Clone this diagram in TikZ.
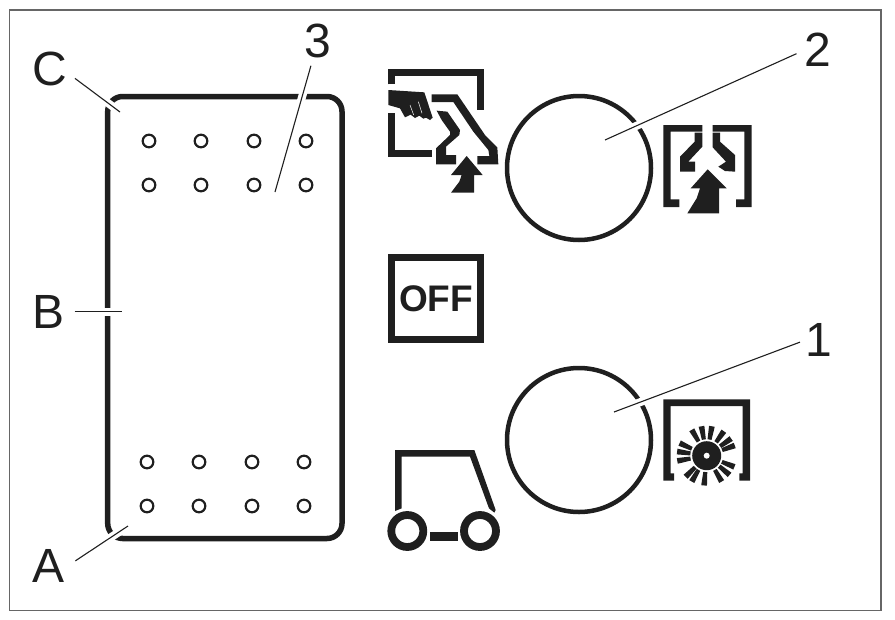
\documentclass[tikz,border=0pt]{standalone}
\usepackage{fontspec}
\setmainfont{Liberation Sans}
\begin{document}
\begin{tikzpicture}[x=1pt,y=-1pt, ink/.style={fill=black!88,draw=none}, frame/.style={draw=black!88,line width=7pt,miter limit=10}, panel/.style={draw=black!88,line width=5.5pt,rounded corners=15pt}, hole/.style={draw=black!88,line width=2.2pt}, dial/.style={draw=black!88,line width=4.5pt}, wheel/.style={draw=black!88,line width=7.8pt}, callout/.style={inner sep=0pt,outer sep=0pt,font=\fontsize{48}{48}\selectfont,text=black!88}, leader/.style={draw=black!88,line width=1.1pt,preaction={draw=white,line width=8pt}}]
\useasboundingbox (0,0) rectangle (895,619);
\draw[black!60,line width=1.5pt] (9.5,10)--(881,10)--(881,610.5)--(9.5,610.5)--cycle;
% switch panel
\draw[panel] (107.7,96.5) rectangle (342,538.5);
\foreach \x in {149,201,254,306} \foreach \y in {141,185} \draw[hole] (\x,\y) circle (6.3pt);
\foreach \x in {147,199,252,304} \foreach \y in {462,506} \draw[hole] (\x,\y) circle (6.3pt);
% dials
\draw[dial] (579,168) circle (72pt);
\draw[dial] (579,440) circle (72pt);
% hand and nozzle
\begin{scope}[shift={(370,50)},scale=1/3]
\draw[frame] (65,103)--(65,68)--(331,68)--(331,180);
\draw[frame] (65,190)--(65,311)--(185,311);
\fill[ink] (55,120)--(163,127)--(188,203)--(180,210)--(168,203)--(160,206)--(148,197)--(135,204)--(122,194)--(105,202)--(90,175)--(55,165)--cycle;
\draw[white,line width=0.5pt] (120,165)--(131,195) (145,155)--(156,190);
\fill[ink] (185,133)--(262,133)--(345,255)--(382,292)--(385,343)--(322,343)--(322,318)--(358,318)--(355,300)--(310,245)--(250,156)--(185,156)--cycle;
\fill[ink] (200,182)--(232,185)--(270,240)--(268,255)--(228,290)--(228,315)--(258,315)--(258,343)--(198,343)--(198,295)--(240,255)--(240,245)--(215,210)--cycle;
\fill[ink] (290,318)--(338,375)--(312,375)--(312,428)--(243,428)--(268,395)--(275,375)--(243,375)--cycle;
\end{scope}
% open nozzle
\begin{scope}[shift={(650,110)},scale=1/3]
\fill[ink] (40,45)--(157,45)--(157,65)--(62,65)--(62,268)--(88,268)--(88,291)--(40,291)--cycle;
\fill[ink] (188,45)--(305,45)--(305,291)--(258,291)--(258,268)--(283,268)--(283,65)--(188,65)--cycle;
\fill[ink] (134,68)--(157,68)--(157,110)--(115,155)--(135,155)--(135,185)--(90,185)--(90,140)--(134,95)--cycle;
\fill[ink] (188,68)--(210,68)--(210,95)--(255,135)--(255,185)--(225,183)--(205,170)--(228,155)--(188,112)--cycle;
\fill[ink] (173,178)--(230,235)--(207,235)--(207,310)--(112,310)--(140,265)--(150,235)--(122,235)--cycle;
\end{scope}
% brush
\begin{scope}[shift={(650,390)},scale=1/3]
\fill[ink] (40,28)--(300,28)--(300,272)--(268,272)--(268,250)--(278,250)--(278,48)--(62,48)--(62,250)--(72,250)--(72,272)--(40,272)--cycle;
\end{scope}
\begin{scope}[shift={(706.7,455.7)}]
\fill[ink] (0,0) circle (14.5pt);
\fill[white] (0,0) circle (3pt);
\foreach \a in {-80,-100,-120,-55,-35,-20,22,40,60,95,120,135,170,-172,-155} \fill[ink] (\a-7:16.5)--(\a-5.5:30)--(\a+5.5:30)--(\a+7:16.5)--cycle;
\end{scope}
% forklift
\begin{scope}[shift={(375,440)},scale=1/3]
\fill[ink] (60,30)--(298,30)--(362,210)--(358,218)--(342,205)--(285,50)--(80,50)--(80,205)--(60,213)--cycle;
\fill[ink] (165,277) rectangle (250,302);
\end{scope}
\draw[wheel] (407.3,531) circle (16pt);
\draw[wheel] (480,531) circle (16pt);
% off switch
\node[draw=black!88,line width=7pt,minimum width=88.5pt,minimum height=82pt,inner sep=0pt,font=\bfseries\fontsize{37}{37}\selectfont,text=black!88] (off) at (436.2,298.5) {OFF};
% callouts
\node[callout] (labc) at (50,69) {C};
\node[callout] (labb) at (48.5,311.5) {B};
\node[callout] (laba) at (48.5,565.5) {A};
\node[callout] (labthree) at (318,41) {3};
\node[callout] (labtwo) at (818,50) {2};
\node[callout] (labone) at (819,340) {1};
\coordinate (tipc) at (120,112);
\coordinate (tipb) at (122,311.5);
\coordinate (tipa) at (128,526);
\coordinate (tipthree) at (275,192);
\coordinate (tiptwo) at (605,140);
\coordinate (tipone) at (614,412);
\draw[leader,shorten <=9.5pt] (labc.-12)--(tipc);
\draw[leader,shorten <=10pt] (labb.east)--(tipb);
\draw[leader,shorten <=13pt] (laba.-9)--(tipa);
\draw[leader,shorten <=8pt] (labthree.-106)--(tipthree);
\draw[leader,shorten <=9pt] (labtwo.west)--(tiptwo);
\draw[leader,shorten <=6pt] (labone.west)--(tipone);
\end{tikzpicture}
\end{document}
